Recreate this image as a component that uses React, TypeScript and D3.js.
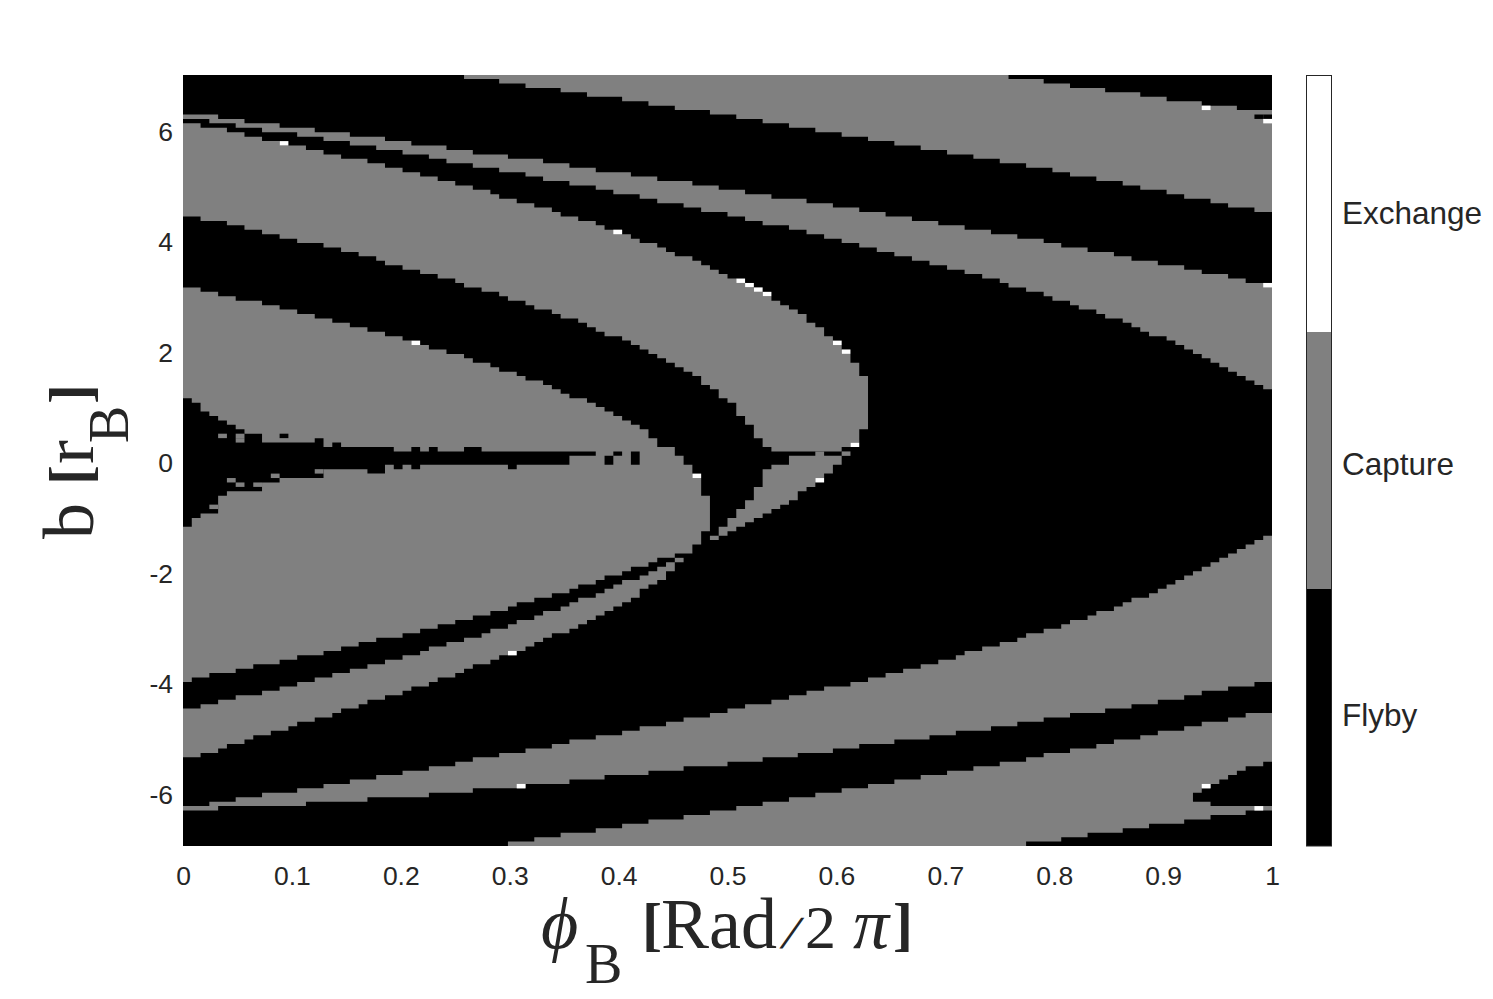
import React, { useEffect, useRef } from 'react';
import * as d3 from 'd3';

type Step = [number, number];

// grid of the map: 124 columns in phi, 174 rows in b (row 0 on top)
const nCols = 124;
const nRows = 174;

const xTicks = [0, 0.1, 0.2, 0.3, 0.4, 0.5, 0.6, 0.7, 0.8, 0.9, 1];
const yTicks = [-6, -4, -2, 0, 2, 4, 6];
const outcomes = ['Flyby', 'Capture', 'Exchange'];
const outcomeColors = ['#000000', '#808080', '#ffffff'];

// every edge is a list of [first column, row]
const aTop: Step[] = [[32, 0], [94, 1], [98, 2], [101, 3], [105, 4], [109, 5], [112, 6], [116, 7], [120, 8]];
const aBottom: Step[] = [[32, 1], [36, 2], [39, 3], [43, 4], [46, 5], [50, 6], [53, 7], [56, 8], [60, 9], [63, 10], [66, 11], [69, 12], [72, 13], [75, 14], [78, 15], [81, 16], [84, 17], [87, 18], [90, 19], [93, 20], [96, 21], [99, 22], [101, 23], [104, 24], [107, 25], [109, 26], [112, 27], [114, 28], [117, 29], [119, 30], [122, 31]];

const bTop: Step[] = [[0, 9], [4, 10], [7, 11], [11, 12], [15, 13], [19, 14], [23, 15], [26, 16], [30, 17], [33, 18], [37, 19], [41, 20], [44, 21], [47, 22], [51, 23], [54, 24], [58, 25], [61, 26], [64, 27], [67, 28], [71, 29], [74, 30], [77, 31], [80, 32], [83, 33], [86, 34], [89, 35], [92, 36], [95, 37], [98, 38], [100, 39], [103, 40], [106, 41], [108, 42], [111, 43], [114, 44], [116, 45], [119, 46], [121, 47]];
const bBottom: Step[] = [[0, 10], [3, 11], [6, 12], [9, 13], [13, 14], [16, 15], [19, 16], [22, 17], [25, 18], [28, 19], [30, 20], [33, 21], [36, 22], [39, 23], [41, 24], [44, 25], [47, 26], [49, 27], [52, 28], [54, 29], [57, 30], [59, 31], [62, 32], [64, 33], [66, 34], [69, 35], [71, 36], [73, 37], [75, 38], [77, 39], [79, 40], [81, 41], [83, 42], [85, 43], [87, 44], [89, 45], [91, 46], [93, 47], [94, 48], [96, 49], [98, 50], [99, 51], [101, 52], [102, 53], [104, 54], [105, 55], [107, 56], [108, 57], [109, 58], [110, 59], [112, 60], [113, 61], [114, 62], [115, 63], [116, 64], [117, 65], [118, 66], [119, 67], [120, 68], [121, 69], [122, 70], [123, 71]];

const cTop: Step[] = [[0, 11], [2, 12], [5, 13], [7, 14], [9, 15], [11, 16], [14, 17], [16, 18], [18, 19], [21, 20], [23, 21], [25, 22], [27, 23], [29, 24], [31, 25], [33, 26], [35, 27], [36, 28], [38, 29], [40, 30], [42, 31], [43, 32], [45, 33], [47, 34], [48, 35], [50, 36], [51, 37], [52, 38], [54, 39], [55, 40], [56, 41], [58, 42], [59, 43], [60, 44], [61, 45], [62, 46], [63, 47], [64, 48], [65, 49], [66, 50], [67, 51], [68, 52], [69, 53], [70, 54], [71, 56], [72, 57], [73, 59], [74, 61], [75, 63], [76, 65], [77, 68]];
const cBottom: Step[] = [[0, 32], [2, 33], [5, 34], [7, 35], [9, 36], [11, 37], [13, 38], [16, 39], [18, 40], [20, 41], [22, 42], [23, 43], [25, 44], [27, 45], [29, 46], [31, 47], [32, 48], [34, 49], [36, 50], [37, 51], [39, 52], [40, 53], [42, 54], [43, 55], [45, 56], [46, 57], [47, 58], [48, 59], [50, 60], [51, 61], [52, 62], [53, 63], [54, 64], [55, 65], [56, 66], [57, 67], [58, 68], [59, 70], [60, 71], [61, 73], [62, 74], [63, 77], [64, 79], [65, 82], [66, 84], [67, 85], [75, 84], [76, 83], [77, 80]];

// the two inner lobes are one band, split by the slit below
const dTop: Step[] = [[0, 48], [2, 49], [4, 50], [6, 51], [9, 52], [11, 53], [13, 54], [15, 55], [17, 56], [19, 57], [21, 58], [23, 59], [25, 60], [26, 61], [28, 62], [30, 63], [32, 64], [33, 65], [35, 66], [36, 67], [38, 68], [39, 69], [41, 70], [42, 71], [43, 72], [44, 73], [46, 74], [47, 75], [48, 76], [49, 77], [50, 78], [51, 79], [52, 80], [53, 82], [54, 84], [56, 86], [57, 88], [58, 91], [59, 95]];
const eBottom: Step[] = [[0, 137], [1, 136], [3, 135], [6, 134], [8, 133], [11, 132], [13, 131], [16, 130], [18, 129], [20, 128], [22, 127], [25, 126], [27, 125], [29, 124], [31, 123], [33, 122], [35, 121], [37, 120], [38, 119], [40, 118], [42, 117], [44, 116], [45, 115], [47, 114], [48, 113], [50, 112], [51, 111], [53, 110], [54, 109], [56, 108], [58, 106], [59, 103]];
const slitTop: Step[] = [[0, 73], [1, 74], [2, 76], [3, 77], [4, 78], [5, 79], [6, 80], [7, 81], [9, 83], [15, 82], [16, 84], [17, 83], [18, 84], [24, 85], [26, 84], [27, 85], [28, 84], [29, 85], [32, 84], [34, 85], [47, 86], [49, 85], [50, 86], [51, 85]];
const slitBottom: Step[] = [[0, 102], [1, 100], [2, 99], [4, 95], [5, 94], [9, 92], [11, 91], [16, 89], [21, 90], [23, 88], [24, 89], [25, 88], [26, 89], [27, 88], [37, 89], [38, 88], [44, 86], [48, 88], [49, 86], [51, 88]];

const fTop: Step[] = [[0, 143], [2, 142], [4, 141], [6, 140], [9, 139], [11, 138], [13, 137], [15, 136], [17, 135], [19, 134], [21, 133], [23, 132], [25, 131], [27, 130], [28, 129], [30, 128], [32, 127], [34, 126], [35, 125], [37, 124], [38, 123], [40, 122], [41, 121], [43, 120], [44, 119], [45, 118], [47, 117], [48, 116], [49, 115], [50, 114], [52, 113], [53, 112], [54, 111], [55, 110]];
const fBottom: Step[] = [[0, 154], [2, 153], [4, 152], [5, 151], [7, 150], [8, 149], [10, 148], [12, 147], [13, 146], [15, 145], [17, 144], [18, 143], [20, 142], [21, 141], [23, 140], [25, 139], [26, 138], [28, 137], [29, 136], [31, 135], [32, 134], [33, 133], [35, 132], [36, 131], [37, 130], [39, 129], [40, 128], [41, 127], [42, 126], [44, 125], [45, 124], [46, 123], [47, 122], [48, 121], [49, 120], [50, 119], [51, 118], [52, 116], [53, 115], [54, 114], [55, 112]];

const gTop: Step[] = [[60, 104], [61, 102], [62, 100], [63, 98], [64, 96], [65, 93], [66, 89], [67, 88], [69, 86], [72, 85], [73, 86]];
const gBottom: Step[] = [[60, 105], [61, 104], [62, 103], [63, 102], [64, 101], [65, 100], [66, 99], [67, 98], [68, 97], [69, 96], [70, 94], [71, 93], [72, 91], [73, 90], [74, 88]];

const hTop: Step[] = [[0, 165], [3, 164], [6, 163], [9, 162], [13, 161], [16, 160], [19, 159], [22, 158], [25, 157], [28, 156], [31, 155], [33, 154], [36, 153], [39, 152], [42, 151], [44, 150], [47, 149], [50, 148], [52, 147], [55, 146], [57, 145], [60, 144], [62, 143], [64, 142], [67, 141], [69, 140], [71, 139], [73, 138], [76, 137], [78, 136], [80, 135], [82, 134], [84, 133], [86, 132], [88, 131], [89, 130], [91, 129], [93, 128], [95, 127], [96, 126], [98, 125], [100, 124], [101, 123], [103, 122], [104, 121], [106, 120], [107, 119], [108, 118], [110, 117], [111, 116], [112, 115], [113, 114], [114, 113], [115, 112], [116, 111], [117, 110], [118, 109], [119, 108], [120, 107], [121, 106], [122, 105], [123, 104]];
const hBottom: Step[] = [[0, 166], [4, 165], [14, 164], [21, 163], [28, 162], [33, 161], [39, 160], [44, 159], [48, 158], [53, 157], [57, 156], [62, 155], [66, 154], [70, 153], [74, 152], [77, 151], [81, 150], [85, 149], [88, 148], [92, 147], [95, 146], [98, 145], [101, 144], [105, 143], [108, 142], [111, 141], [114, 140], [116, 139], [119, 138], [122, 137]];

const iTop: Step[] = [[37, 173], [40, 172], [43, 171], [47, 170], [50, 169], [53, 168], [57, 167], [60, 166], [63, 165], [66, 164], [69, 163], [72, 162], [75, 161], [78, 160], [81, 159], [84, 158], [87, 157], [90, 156], [93, 155], [96, 154], [98, 153], [101, 152], [104, 151], [106, 150], [109, 149], [111, 148], [114, 147], [116, 146], [119, 145], [121, 144]];
const iBottom: Step[] = [[37, 174], [96, 173], [100, 172], [103, 171], [107, 170], [110, 169], [114, 168], [117, 167], [121, 166]];

// black wedge inside the lowest band
const jTop: Step[] = [[115, 162], [116, 161], [117, 160], [118, 159], [119, 158], [120, 157], [121, 156], [123, 155]];
const jBottom: Step[] = [[115, 164], [117, 165]];

// single cells: [column, row]
const exchangeCells: Step[] = [[11, 15], [26, 60], [49, 35], [63, 46], [64, 47], [65, 48], [66, 49], [74, 60], [75, 62], [76, 83], [58, 90], [72, 91], [37, 130], [38, 160], [116, 160], [122, 165], [116, 7], [123, 10], [123, 47]];
const captureCells: Step[] = [[4, 81], [6, 81], [6, 82], [5, 91], [6, 92], [8, 92], [10, 90], [15, 89], [3, 97], [75, 85], [56, 109]];
const flybyCells: Step[] = [[11, 81], [122, 9], [123, 9]];

const expand = (top: Step[], bottom: Step[], from: number, to: number) => {
  const at = (steps: Step[], c: number) => {
    let row = steps[0][1];
    steps.forEach((s) => { if (s[0] <= c) row = s[1]; });
    return row;
  };
  const pts = d3.range(from, to + 1).map((c) => ({ c, y0: at(top, c), y1: at(bottom, c) }));
  pts.push({ c: to + 1, y0: at(top, to), y1: at(bottom, to) });
  return pts;
};

const serif = '"Liberation Serif", serif';
const sans = '"Liberation Sans", Arial, sans-serif';
const ink = '#262626';

export default function App() {
  const ref = useRef<SVGSVGElement>(null);

  useEffect(() => {
    const svg = d3.select(ref.current);
    svg.selectAll('*').remove();

    const left = 183, right = 1272, top = 75, bottom = 846;
    const col = d3.scaleLinear().domain([0, nCols]).range([left, right]);
    const row = d3.scaleLinear().domain([0, nRows]).range([74.6, bottom]);
    const phi = d3.scaleLinear().domain([0, 1]).range([left, right]);
    const b = d3.scaleLinear().domain([-6.93, 7.03]).range([bottom, top]);

    svg.append('clipPath').attr('id', 'plot').append('rect')
      .attr('x', left).attr('y', top).attr('width', right - left).attr('height', bottom - top);

    const map = svg.append('g').attr('clip-path', 'url(#plot)');
    map.append('rect')
      .attr('x', left).attr('y', top).attr('width', right - left).attr('height', bottom - top)
      .attr('fill', outcomeColors[0]);

    const area = d3.area<{ c: number; y0: number; y1: number }>()
      .x((d) => col(d.c))
      .y0((d) => row(d.y0))
      .y1((d) => row(d.y1))
      .curve(d3.curveStepAfter);

    const grayBands = [
      expand(aTop, aBottom, 32, nCols - 1),
      expand(bTop, bBottom, 0, nCols - 1),
      expand(cTop, cBottom, 0, 77),
      expand(dTop, eBottom, 0, 59),
      expand(fTop, fBottom, 0, 55),
      expand(gTop, gBottom, 60, 74),
      expand(hTop, hBottom, 0, nCols - 1),
      expand(iTop, iBottom, 37, nCols - 1),
    ];
    map.selectAll('path.capture').data(grayBands).enter().append('path')
      .attr('class', 'capture').attr('d', (d) => area(d)).attr('fill', outcomeColors[1]);

    const blackBands = [expand(slitTop, slitBottom, 0, 51), expand(jTop, jBottom, 115, nCols - 1)];
    map.selectAll('path.flyby').data(blackBands).enter().append('path')
      .attr('class', 'flyby').attr('d', (d) => area(d)).attr('fill', outcomeColors[0]);

    const drawCells = (cells: Step[], fill: string) => {
      map.append('g').selectAll('rect').data(cells).enter().append('rect')
        .attr('x', (d) => col(d[0]))
        .attr('y', (d) => row(d[1]))
        .attr('width', col(1) - col(0))
        .attr('height', row(1) - row(0))
        .attr('fill', fill);
    };
    drawCells(flybyCells, outcomeColors[0]);
    drawCells(captureCells, outcomeColors[1]);
    drawCells(exchangeCells, outcomeColors[2]);

    // axes, no tick marks or domain line in the original
    const xAxis = svg.append('g').attr('transform', 'translate(0,866)')
      .call(d3.axisBottom(phi).tickValues(xTicks).tickFormat((d) => String(d)).tickSize(0).tickPadding(0));
    const yAxis = svg.append('g').attr('transform', 'translate(173,0)')
      .call(d3.axisLeft(b).tickValues(yTicks).tickFormat((d) => String(d)).tickSize(0).tickPadding(0));
    [xAxis, yAxis].forEach((axis) => {
      axis.select('.domain').remove();
      axis.selectAll('text').attr('font-family', sans).attr('font-size', 26.5).attr('fill', ink);
    });

    // colorbar, its labels do not sit at the centre of each segment
    const barY = d3.scaleLinear().domain([0, outcomes.length]).range([bottom, top]);
    const labelY = d3.scaleLinear().domain([0, outcomes.length - 1]).range([715, 213]);
    const bar = svg.append('g');
    bar.selectAll('rect').data(outcomes).enter().append('rect')
      .attr('x', 1306).attr('width', 26)
      .attr('y', (_, i) => barY(i + 1))
      .attr('height', (_, i) => barY(i) - barY(i + 1))
      .attr('fill', (_, i) => outcomeColors[i]);
    bar.append('rect')
      .attr('x', 1306.5).attr('y', 75.5).attr('width', 25).attr('height', 770.5)
      .attr('fill', 'none').attr('stroke', ink).attr('stroke-width', 1);
    bar.selectAll('text').data(outcomes).enter().append('text')
      .attr('x', 1342)
      .attr('y', (_, i) => labelY(i))
      .attr('dy', '0.34em')
      .attr('font-family', sans).attr('font-size', 31.5).attr('fill', ink)
      .text((d) => d);

    // axis titles are built piece by piece, the way the original sets them
    const piece = (g: any, txt: string, x: number, y: number, size: number, style = 'normal', weight = 'normal') =>
      g.append('text')
        .attr('x', x).attr('y', y)
        .attr('font-family', serif).attr('font-size', size)
        .attr('font-style', style).attr('font-weight', weight)
        .attr('fill', ink)
        .text(txt);

    const xTitle = svg.append('g');
    piece(xTitle, '\u03d5', 541, 948, 72, 'italic');
    piece(xTitle, 'B', 585, 983, 56);
    piece(xTitle, '[', 642, 944, 60, 'normal', 'bold');
    piece(xTitle, 'Rad', 661, 948, 72);
    piece(xTitle, '/', 0, 0, 46, 'normal', 'bold').attr('transform', 'translate(780,948) skewX(-20)');
    piece(xTitle, '2', 805, 948, 62);
    piece(xTitle, '\u03c0', 853, 948, 72, 'italic');
    piece(xTitle, ']', 893, 944, 60, 'normal', 'bold');

    const yTitle = svg.append('g').attr('transform', 'translate(93,0) rotate(-90)');
    piece(yTitle, 'b', -539, 0, 72);
    piece(yTitle, '[', -485, -3, 60, 'normal', 'bold');
    piece(yTitle, 'r', -464, 0, 72);
    piece(yTitle, 'B', -443, 35, 56);
    piece(yTitle, ']', -404, -3, 60, 'normal', 'bold');
  }, []);

  return <svg ref={ref} width={1493} height={999} style={{ position: 'absolute', left: 0, top: 0, background: '#fff' }} />;
}
